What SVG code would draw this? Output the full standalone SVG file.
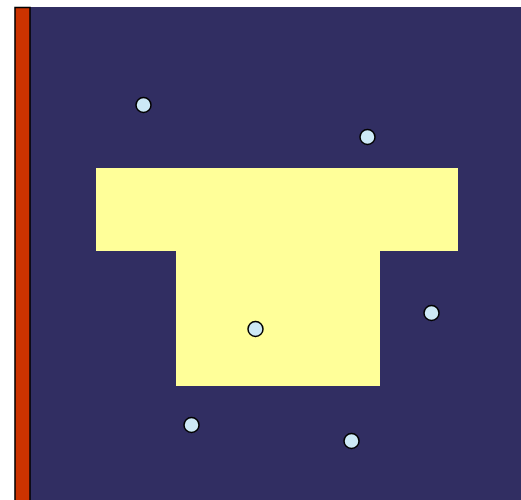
<svg xmlns="http://www.w3.org/2000/svg" width="521" height="500" viewBox="0 0 521 500">
<style>
.dot{fill:#cde9f6;stroke:#000;stroke-width:1.5}
</style>
<rect x="0" y="0" width="521" height="500" fill="#fff"/>
<rect id="field" x="30" y="7" width="491" height="493" fill="#312e62"/>
<rect id="wall" x="15" y="7.5" width="15" height="500" fill="#cc3300" stroke="#000" stroke-width="1.5"/>
<path id="building" d="M96 168H458V251H380V386H176V251H96Z" fill="#ffff99"/>
<g id="points">
<circle id="p1" class="dot" cx="143.5" cy="105" r="7.5"/>
<circle id="p2" class="dot" cx="367.5" cy="137" r="7.5"/>
<circle id="p3" class="dot" cx="255.5" cy="329" r="7.5"/>
<circle id="p4" class="dot" cx="431.5" cy="313" r="7.5"/>
<circle id="p5" class="dot" cx="191.5" cy="425" r="7.5"/>
<circle id="p6" class="dot" cx="351.5" cy="441" r="7.5"/>
</g>
</svg>
